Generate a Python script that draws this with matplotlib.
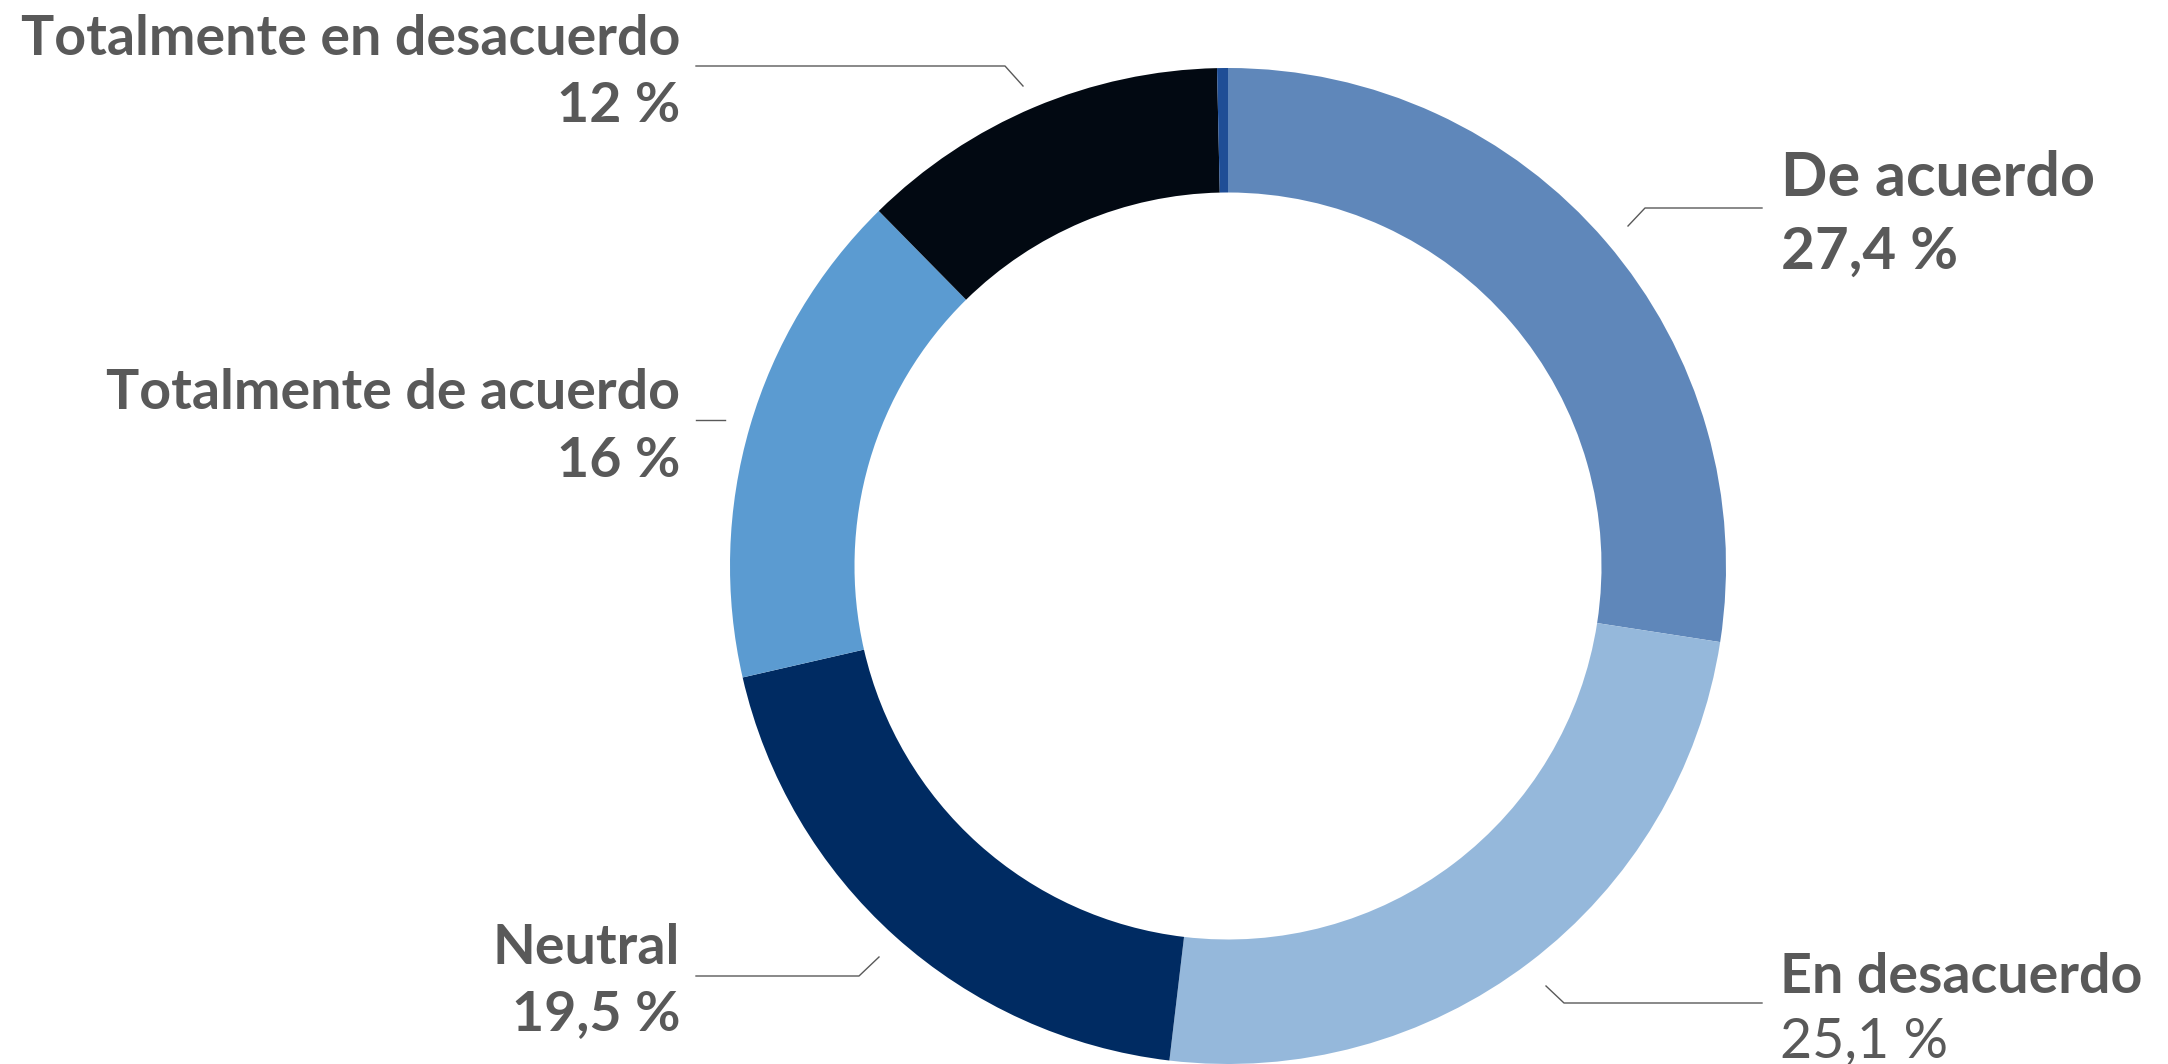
import matplotlib
matplotlib.use("Agg")
import matplotlib.pyplot as plt

labels = ["De acuerdo", "En desacuerdo", "Neutral", "Totalmente de acuerdo", "Totalmente en desacuerdo", ""]
# wedge sizes
values = [27.4, 24.4, 19.5, 16.2, 12.0, 0.35]
value_text = ["27,4 %", "25,1 %", "19,5 %", "16 %", "12 %", ""]
colors = ["#5F87BA", "#95B8DB", "#002B62", "#5B9BD1", "#020912", "#1F4E96"]

W, H = 2168, 1064
fig = plt.figure(figsize=(W / 100, H / 100), dpi=100)
ax = fig.add_axes([0, 0, 1, 1])

cx, cy, R = 1228, H - 566, 498
ax.pie(values, colors=colors, startangle=90, counterclock=False,
       center=(cx, cy), radius=R, frame=True,
       wedgeprops=dict(width=R * 0.25, linewidth=0))
ax.set_xlim(0, W)
ax.set_ylim(0, H)
ax.axis("off")

tc = "#595959"
fam = ["Lato", "DejaVu Sans"]

def Y(y):
    return H - y

# label layout: (index, x, baseline1, baseline2, ha, bold2, fs1, fs2)
layout = [
    (0, 1781, 196, 269, "left", True, 44, 42),
    (1, 1780, 993, 1057, "left", False, 40, 40),
    (2, 680, 964, 1030, "right", True, 40, 40),
    (3, 680, 409, 477, "right", True, 40, 40),
    (4, 680, 55, 122, "right", True, 40, 40),
]
for i, x, b1, b2, ha, bold2, fs1, fs2 in layout:
    ax.text(x, Y(b1), labels[i], ha=ha, va="baseline", fontsize=fs1,
            fontweight="bold", color=tc, family=fam)
    ax.text(x, Y(b2), value_text[i], ha=ha, va="baseline", fontsize=fs2,
            fontweight="bold" if bold2 else "normal", color=tc, family=fam)

# leader lines
lc = "#595959"
leaders = [
    [(1628, 226), (1645, 208), (1762, 208)],
    [(1546, 986), (1564, 1003), (1762, 1003)],
    [(879, 957), (859, 976), (696, 976)],
    [(725, 420), (696, 420)],
    [(1023, 86), (1005, 66), (696, 66)],
]
for pts in leaders:
    xs = [p[0] for p in pts]
    ys = [Y(p[1]) for p in pts]
    ax.plot(xs, ys, color=lc, linewidth=1.0)

fig.savefig("out.png", dpi=100, facecolor="white")
